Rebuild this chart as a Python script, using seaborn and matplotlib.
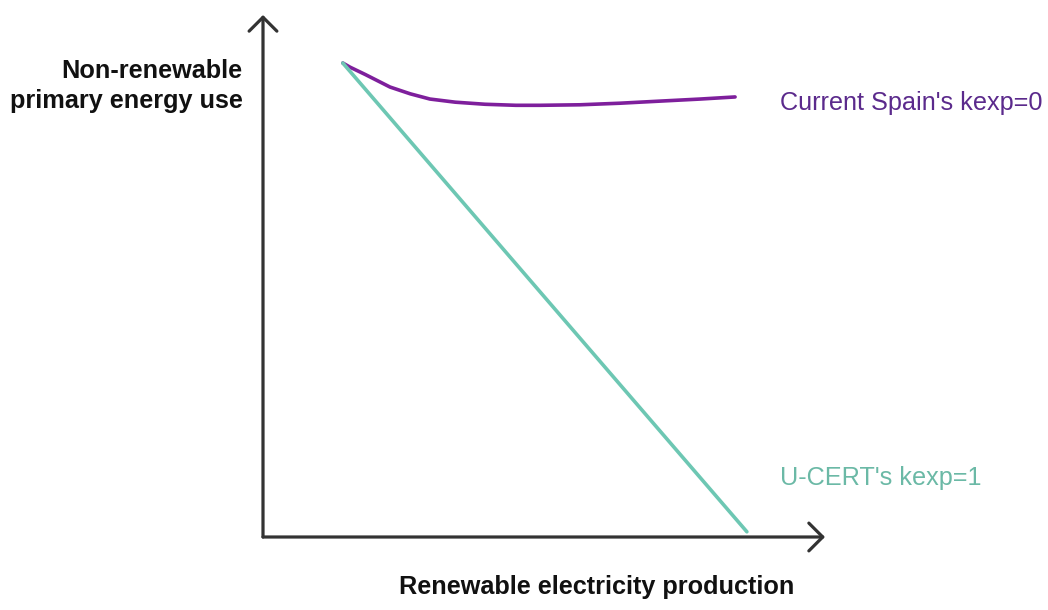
import numpy as np
import pandas as pd
import matplotlib.pyplot as plt
import seaborn as sns

# --- data (arbitrary units, origin of the arrows at 0,0) ---
spain_x = [1.42, 1.55, 1.82, 2.26, 2.62, 2.97, 3.42, 3.95, 4.50, 4.93, 5.64, 6.35, 7.06, 7.78, 8.40]
spain_y = [9.08, 9.00, 8.86, 8.62, 8.49, 8.39, 8.33, 8.29, 8.27, 8.27, 8.28, 8.31, 8.35, 8.39, 8.43]
ucert_x = [1.42, 8.61]
ucert_y = [9.08, 0.10]

purple = "#7E1F9C"
purple_txt = "#5B2A8C"
teal = "#6DC7B3"
teal_txt = "#6BB9A6"
axis_col = "#333333"

df = pd.concat([
    pd.DataFrame({"x": spain_x, "y": spain_y, "serie": "spain"}),
    pd.DataFrame({"x": ucert_x, "y": ucert_y, "serie": "ucert"}),
])

sns.set_style("white")
plt.rcParams["font.family"] = ["Liberation Sans", "DejaVu Sans"]

fig = plt.figure(figsize=(10.48, 6.10), dpi=100)
ax = fig.add_axes([263 / 1048, 73 / 610, 562 / 1048, 522 / 610])

sns.lineplot(data=df, x="x", y="y", hue="serie", palette={"spain": purple, "ucert": teal},
             linewidth=2.6, legend=False, ax=ax, sort=False)
ax.lines[0].set_solid_joinstyle("round")

ax.set_xlim(0, 10)
ax.set_ylim(0, 10)
ax.set_xticks([])
ax.set_yticks([])
ax.set_xlabel("")
ax.set_ylabel("")
for s in ax.spines.values():
    s.set_visible(False)

# ejes con flecha
arrow = dict(arrowstyle="->, head_length=0.5, head_width=0.5", color=axis_col,
             lw=2.3, mutation_scale=20, shrinkA=0, shrinkB=0)
ax.annotate("", xy=(1, 0), xytext=(0, 0), xycoords="axes fraction", arrowprops=arrow)
ax.annotate("", xy=(0, 1), xytext=(0, 0), xycoords="axes fraction", arrowprops=arrow)

# textos
ax.text(-0.36, 8.64, "Non-renewable\nprimary energy use", ha="right", va="center",
        fontsize=18.2, fontweight="bold", color="#111111", linespacing=1.3, clip_on=False)
ax.text(5.93, -0.96, "Renewable electricity production", ha="center", va="center",
        fontsize=18.2, fontweight="bold", color="#111111", clip_on=False)
ax.text(9.2, 8.31, "Current Spain's kexp=0", ha="left", va="center",
        fontsize=18.2, color=purple_txt, clip_on=False)
ax.text(9.2, 1.13, "U-CERT's kexp=1", ha="left", va="center",
        fontsize=18.2, color=teal_txt, clip_on=False)

plt.savefig("out.png", dpi=100)
